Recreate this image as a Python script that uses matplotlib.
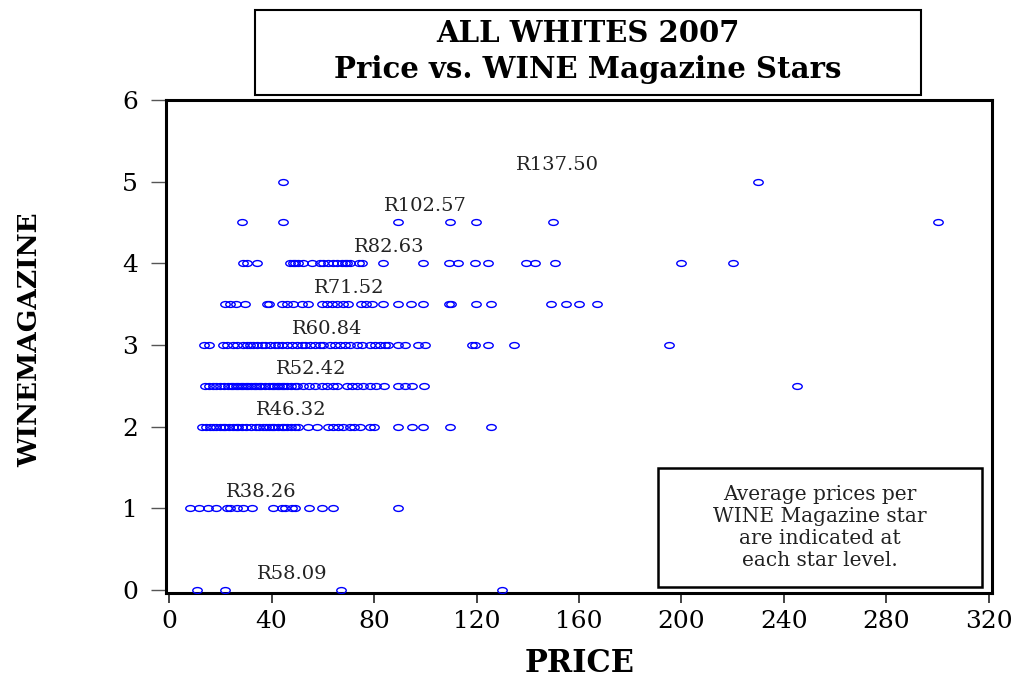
import numpy as np
import matplotlib
matplotlib.use("Agg")
import matplotlib.pyplot as plt
from matplotlib.path import Path
from matplotlib.transforms import Affine2D
from matplotlib.patches import Rectangle

# ------------------------------------------------------------------
# Prices (R), grouped by WINE Magazine star level
# ------------------------------------------------------------------
star_levels = [0, 1, 2, 2.5, 3, 3.5, 4, 4.5, 5]

prices_0 = [11, 22, 67, 130]
prices_1 = [8, 11.7, 15, 18.2, 22.8, 23.8, 26.4, 29, 32.3, 40.5, 44, 45.3,
            47.9, 49.2, 54.8, 59.6, 64.1, 89.5]
prices_2 = [13, 14.5, 16, 17, 18.5, 20, 21, 22, 23.5, 25, 26, 27, 28.5, 30,
            32, 34, 35, 36.5, 38, 39, 40, 41, 42.5, 44, 45, 46, 47.5, 49,
            50.5, 54.4, 57.6, 62.2, 64.1, 66.1, 68, 70.6, 72.2, 74.5, 78.4,
            80, 89.5, 94.7, 99.3, 109.7, 125.5]
prices_25 = [14, 15.5, 17, 18.5, 20, 21.5, 23, 24, 25, 26, 27, 28, 29, 30,
             31, 32, 33, 34, 35, 36, 37.5, 39, 40, 41, 42, 43, 44, 45, 46,
             47.5, 49, 50, 52.4, 54.8, 57, 59.6, 61.5, 64.1, 65.4, 69.3,
             71.3, 73.2, 75.8, 78.4, 80.8, 84, 89.5, 92.1, 94.7, 99.5, 245]
prices_3 = [13.7, 15.7, 21, 22.8, 24.9, 26.4, 29, 30.3, 31.6, 32.9, 34.2,
            36.2, 37.5, 39.4, 41.4, 42.7, 44, 45.9, 47.9, 49.8, 51.8, 53.1,
            55, 57, 58.9, 60.2, 62.8, 64.8, 66.7, 68.7, 70.6, 73.2, 75.2,
            78.4, 80.4, 82.3, 84.3, 85.6, 89.5, 92.1, 97.3, 99.9, 118.1,
            119.4, 124.6, 134.8, 195]
prices_35 = [21.9, 23.8, 26.1, 29.7, 38.4, 39, 44, 45.9, 48.5, 51.8, 54.4,
             59.6, 61.5, 63.5, 65.4, 68, 70, 74.8, 76.9, 79.1, 83.4, 89.5,
             94.3, 99.3, 109.3, 110, 119.8, 125.5, 149, 155, 160, 167]
prices_4 = [29, 30.6, 34.2, 47.2, 48.3, 49.2, 50.5, 52.4, 55.7, 58.9, 60.2,
            62.2, 64.1, 65.4, 67.4, 68.7, 69.6, 70.6, 74.3, 75.2, 83.4, 99.3,
            109.3, 112.9, 119.4, 124.4, 139.3, 142.8, 150.6, 200, 220]
prices_45 = [28.5, 44.5, 89.5, 109.7, 119.7, 150, 300]
prices_5 = [44.5, 230]

all_prices = [prices_0, prices_1, prices_2, prices_25, prices_3, prices_35,
              prices_4, prices_45, prices_5]

# average-price annotations per star level
avg_labels = ['R58.09', 'R38.26', 'R46.32', 'R52.42', 'R60.84', 'R71.52',
              'R82.63', 'R102.57', 'R137.50']
avg_label_x = [48.2, 35.9, 47.6, 55.4, 61.7, 70.2, 85.9, 99.9, 151.4]

x_ticks = [0, 40, 80, 120, 160, 200, 240, 280, 320]
y_ticks = [0, 1, 2, 3, 4, 5, 6]

# ------------------------------------------------------------------
SERIF = ['DejaVu Serif']
plt.rcParams['font.family'] = SERIF

fig = plt.figure(figsize=(10.26, 6.8), dpi=100)
ax = fig.add_axes([166 / 1026, 1 - 593 / 680, 826 / 1026, 493 / 680])

# flattened open-circle marker, as in the original
ell = Affine2D().scale(1.0, 0.62).transform_path(Path.unit_circle())

for lvl, pr in zip(star_levels, all_prices):
    ax.plot(pr, [lvl] * len(pr), ls='none', marker=ell, ms=6.8,
            mfc='none', mec='#0000ff', mew=1.0, zorder=3)

for lvl, lab, lx in zip(star_levels, avg_labels, avg_label_x):
    ax.text(lx, lvl + 0.2, lab, ha='center', va='center', fontsize=14,
            color='#222222')

ax.set_xlim(-1.2, 321.2)
ax.set_ylim(-0.037, 6.0)
ax.set_xticks(x_ticks)
ax.set_yticks(y_ticks)
ax.tick_params(axis='y', direction='out', length=11, width=1.0,
               color='#555555', pad=9, labelsize=18)
ax.tick_params(axis='x', direction='out', length=7, width=1.2,
               color='#222222', pad=5, labelsize=18)
for sp in ax.spines.values():
    sp.set_linewidth(2.2)

fig.text(580 / 1026, 1 - 664 / 680, 'PRICE', ha='center', va='center',
         fontsize=22, fontweight='bold')
fig.text(30 / 1026, 1 - 340 / 680, 'WINEMAGAZINE', rotation=90,
         ha='center', va='center', fontsize=19, fontweight='bold')

# note box inside the plot
ax.add_patch(Rectangle((0.5956, 0.0122), 0.3923, 0.2413,
                       transform=ax.transAxes, fill=False, lw=1.8,
                       ec='black', zorder=4))
ax.text(0.792, 0.1328, 'Average prices per\nWINE Magazine star\n'
        'are indicated at\neach star level.', transform=ax.transAxes,
        ha='center', va='center', fontsize=14.5, linespacing=1.22,
        color='#222222', zorder=5)

# title box
fig.patches.append(Rectangle((255 / 1026, 1 - 95 / 680), 666 / 1026,
                             85 / 680, transform=fig.transFigure,
                             fill=False, lw=1.5, ec='black'))
fig.text(588 / 1026, 1 - 33 / 680, 'ALL WHITES 2007', ha='center',
         va='center', fontsize=21, fontweight='bold')
fig.text(588 / 1026, 1 - 69 / 680, 'Price vs. WINE Magazine Stars',
         ha='center', va='center', fontsize=21, fontweight='bold')

fig.savefig('out.png', dpi=100)
